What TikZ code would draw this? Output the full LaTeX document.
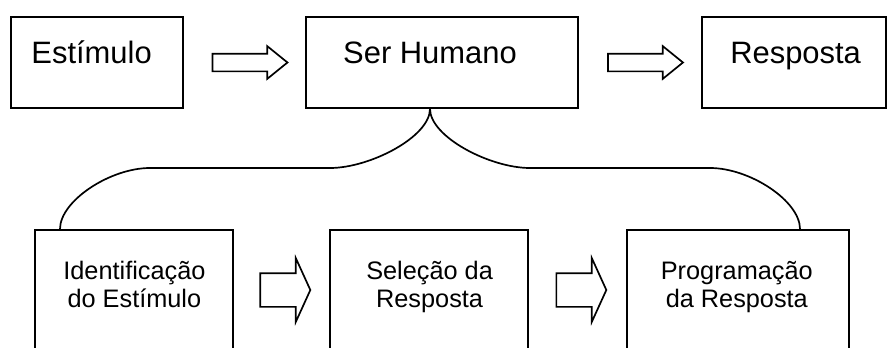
\documentclass[tikz,border=0pt]{standalone}
\usepackage{fontspec}
\setmainfont{Liberation Sans}
\usetikzlibrary{shapes.arrows,calc}

\begin{document}
\begin{tikzpicture}[
    bigbox/.style={draw, rectangle, line width=1.2pt, minimum height=2.275cm},
    stagebox/.style={draw, rectangle, line width=1.2pt, minimum height=3.5cm, anchor=north},
    bigtext/.style={font=\fontsize{22}{26}\selectfont, anchor=base, inner sep=0pt},
    stagetext/.style={font=\fontsize{18}{19.5}\selectfont, align=center, anchor=base, inner sep=0pt},
    toparrow/.style={draw, single arrow, line width=1.2pt, inner xsep=0pt, inner ysep=0.2cm,
      minimum height=1.875cm, single arrow head extend=0.19cm, single arrow tip angle=78},
    stagearrow/.style={draw, single arrow, line width=1.2pt, inner xsep=0pt, inner ysep=0.4cm,
      minimum height=1.25cm, single arrow head extend=0.375cm, single arrow tip angle=131},
    bracepath/.style={line width=1.2pt}
  ]
  \clip (0,0) rectangle (22.175,8.675);

  % top row
  \node[bigbox, minimum width=4.3cm] (stimbox) at (2.425,7.1125) {};
  \node[bigbox, minimum width=6.8cm] (humanbox) at (11.05,7.1125) {};
  \node[bigbox, minimum width=4.6cm] (respbox) at (19.85,7.1125) {};
  \node[bigtext] (stimtext) at (2.29,7.09) {Estímulo};
  \node[bigtext] (humantext) at (10.75,7.09) {Ser Humano};
  \node[bigtext] (resptext) at (19.89,7.09) {Resposta};

  \node[toparrow] (toparr1) at ($(stimbox.east)!0.5!(humanbox.west)$) {};
  \node[toparrow] (toparr2) at ($(humanbox.east)!0.5!(respbox.west)$) {};

  % bottom row
  \node[stagebox, minimum width=4.95cm] (identbox) at (3.35,2.95) {};
  \node[stagebox, minimum width=4.95cm] (selbox) at (10.725,2.95) {};
  \node[stagebox, minimum width=5.55cm] (progbox) at (18.45,2.95) {};
  \node[stagetext] (identtext) at (3.36,1.0) {Identificação\\do Estímulo};
  \node[stagetext] (seltext) at (10.74,1.0) {Seleção da\\Resposta};
  \node[stagetext] (progtext) at (18.42,1.0) {Programação\\da Resposta};

  \node[stagearrow] (botarr1) at ($(identbox.north east)!0.5!(selbox.north west)+(0,-1.525)$) {};
  \node[stagearrow] (botarr2) at ($(selbox.north east)!0.5!(progbox.north west)+(0,-1.525)$) {};

  % brace
  \coordinate (leftin) at (8.25,4.475);
  \coordinate (leftout) at (3.75,4.475);
  \coordinate (rightin) at (13.25,4.475);
  \coordinate (rightout) at (17.75,4.475);
  \draw[bracepath] ([xshift=-0.3cm]humanbox.south) .. controls +(0,-0.7) and +(1.0,0) .. (leftin)
    -- (leftout) .. controls +(-1.0,0) and +(0,0.7) .. ([xshift=-1.85cm]identbox.north);
  \draw[bracepath] ([xshift=-0.3cm]humanbox.south) .. controls +(0,-0.7) and +(-1.0,0) .. (rightin)
    -- (rightout) .. controls +(1.0,0) and +(0,0.7) .. ([xshift=1.55cm]progbox.north);
\end{tikzpicture}
\end{document}
